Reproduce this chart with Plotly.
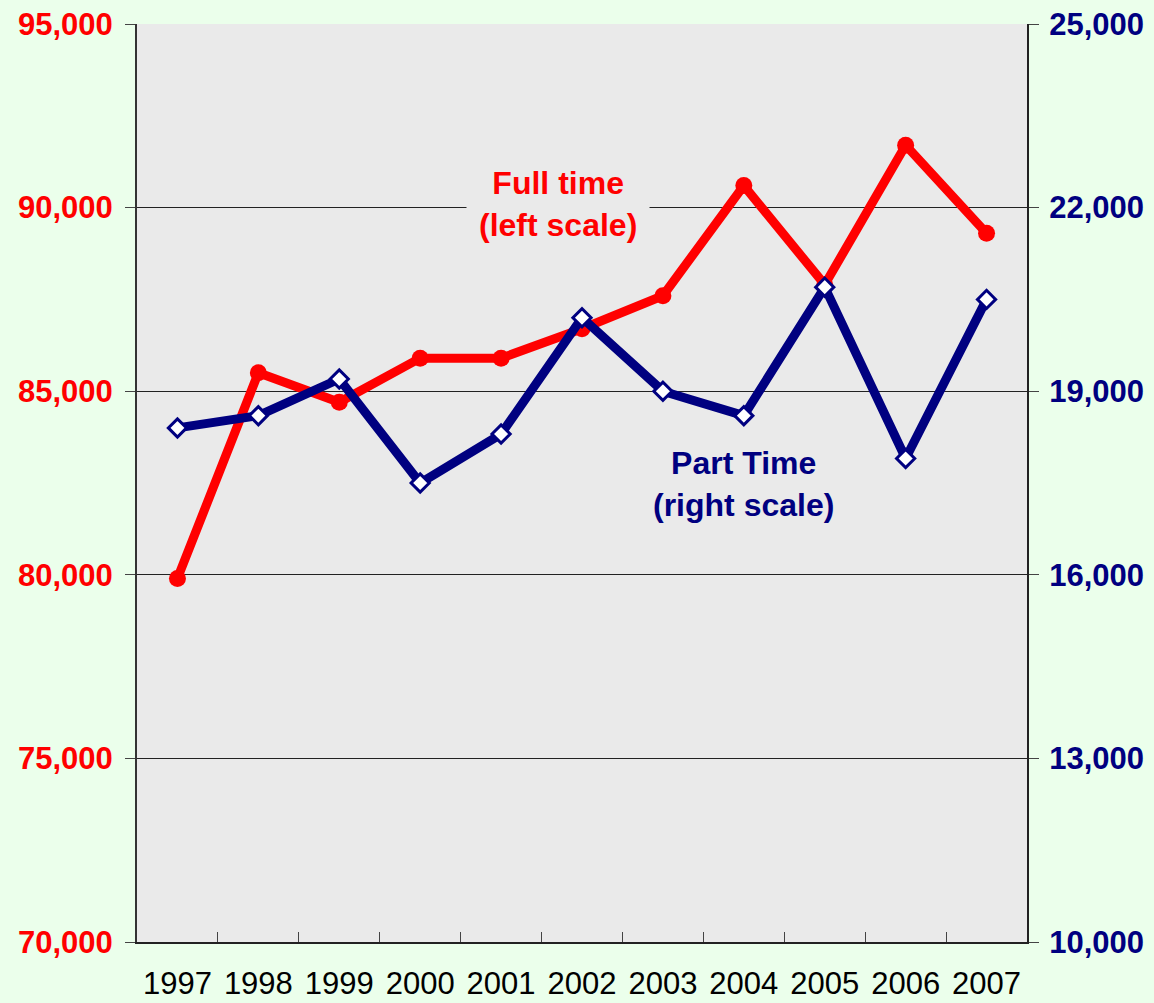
import plotly.graph_objects as go

years = ["1997", "1998", "1999", "2000", "2001", "2002", "2003", "2004", "2005", "2006", "2007"]
full_time = [79900, 85500, 84700, 85900, 85900, 86700, 87600, 90600, 87900, 91700, 89300]
part_time = [18400, 18600, 19200, 17500, 18300, 20200, 19000, 18600, 20700, 17900, 20500]

RED = "#FF0000"
NAVY = "#000080"
FONT = "Liberation Sans, Arial, sans-serif"

fig = go.Figure()
fig.add_trace(go.Scatter(
    x=years, y=full_time, mode="lines+markers", yaxis="y",
    line=dict(color=RED, width=9),
    marker=dict(symbol="circle", size=17, color=RED),
    showlegend=False, cliponaxis=False,
))
fig.add_trace(go.Scatter(
    x=years, y=part_time, mode="lines+markers", yaxis="y2",
    line=dict(color=NAVY, width=9),
    marker=dict(symbol="diamond", size=14, color="white", line=dict(color=NAVY, width=3)),
    showlegend=False, cliponaxis=False,
))

fig.update_layout(
    width=1154, height=1003,
    margin=dict(l=137, r=127, t=24, b=61),
    paper_bgcolor="#EBFFEB",
    plot_bgcolor="#EAEAEA",
    font=dict(family=FONT),
    xaxis=dict(
        type="category", range=[-0.5, 10.5], automargin=False,
        showline=True, linecolor="#222", linewidth=2,
        ticks="inside", tickson="boundaries", ticklen=10, tickcolor="#444",
        tickfont=dict(size=31, color="black", family=FONT),
        ticklabelstandoff=13,
        showgrid=False, zeroline=False,
    ),
    yaxis=dict(
        range=[70000, 95000], tick0=70000, dtick=5000, tickformat=",", automargin=False,
        showline=True, linecolor="#333", linewidth=2,
        ticks="outside", ticklen=10, tickcolor="#444",
        tickfont=dict(size=31, color=RED, family=FONT, weight="bold"),
        ticklabelstandoff=6,
        showgrid=True, gridcolor="#222", gridwidth=1, zeroline=False,
    ),
    yaxis2=dict(
        range=[10000, 25000], tick0=10000, dtick=3000, tickformat=",", automargin=False,
        overlaying="y", side="right",
        showline=True, linecolor="#222", linewidth=2,
        ticks="outside", ticklen=10, tickcolor="#444",
        tickfont=dict(size=31, color=NAVY, family=FONT, weight="bold"),
        ticklabelstandoff=4,
        showgrid=False, zeroline=False,
    ),
    annotations=[
        dict(x=4.7, y=90100, xref="x", yref="y",
             text="<b>Full time<br>(left scale)</b>", showarrow=False,
             font=dict(size=32, color=RED, family=FONT),
             bgcolor="#EAEAEA", borderpad=12, align="center"),
        dict(x=7.0, y=82470, xref="x", yref="y",
             text="<b>Part Time<br>(right scale)</b>", showarrow=False,
             font=dict(size=32, color=NAVY, family=FONT),
             bgcolor="rgba(0,0,0,0)", align="center"),
    ],
)

fig.write_html("out.html", config={"displayModeBar": False},
               post_script="document.body.style.margin='0';")
